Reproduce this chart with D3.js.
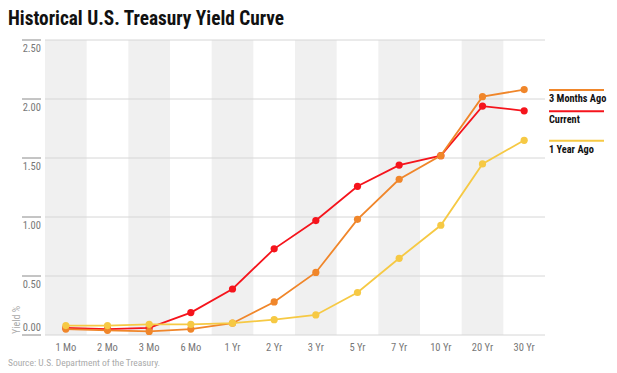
<!DOCTYPE html>
<html>
<head>
<meta charset="utf-8">
<script src="https://cdn.jsdelivr.net/npm/d3@7"></script>
<style>
  body { margin: 0; background: #fff; }
  svg { display: block; font-family: 'Liberation Sans Narrow', 'Roboto Condensed', 'DejaVu Sans Condensed', sans-serif; }
</style>
</head>
<body>
<svg id="chart" width="617" height="373"></svg>
<script>
const categories = ['1 Mo', '2 Mo', '3 Mo', '6 Mo', '1 Yr', '2 Yr', '3 Yr', '5 Yr', '7 Yr', '10 Yr', '20 Yr', '30 Yr'];
const current = [0.06, 0.05, 0.06, 0.19, 0.39, 0.73, 0.97, 1.26, 1.44, 1.52, 1.94, 1.90];
const threeMonthsAgo = [0.05, 0.04, 0.03, 0.05, 0.10, 0.28, 0.53, 0.98, 1.32, 1.52, 2.02, 2.08];
const oneYearAgo = [0.08, 0.08, 0.09, 0.09, 0.10, 0.13, 0.17, 0.36, 0.65, 0.93, 1.45, 1.65];
const yTicks = [0, 0.5, 1, 1.5, 2, 2.5];

const series = [
  { name: 'Current', values: current, color: '#f5141c' },
  { name: '3 Months Ago', values: threeMonthsAgo, color: '#f0862a' },
  { name: '1 Year Ago', values: oneYearAgo, color: '#f6c944' },
];

const svg = d3.select('#chart');
const plot = { left: 45, right: 545, top: 40, bottom: 335 };

const x = d3.scaleBand().domain(categories).range([plot.left, plot.right]).padding(0);
const y = d3.scaleLinear().domain([0, 2.5]).range([plot.bottom, plot.top]);
const cx = (i) => x(categories[i]) + x.bandwidth() / 2;

// title
svg.append('text')
  .attr('x', 8).attr('y', 25)
  .attr('font-size', 19.3).attr('font-weight', 'bold').attr('fill', '#111')
  .text('Historical U.S. Treasury Yield Curve');

// alternating bands
svg.append('g').selectAll('rect')
  .data(categories.filter((d, i) => i % 2 === 0))
  .join('rect')
  .attr('x', (d) => x(d))
  .attr('y', plot.top)
  .attr('width', x.bandwidth())
  .attr('height', plot.bottom - plot.top)
  .attr('fill', '#f0f0f0');

// gridlines + tick marks
const grid = svg.append('g');
grid.selectAll('line.grid')
  .data(yTicks)
  .join('line')
  .attr('class', 'grid')
  .attr('x1', plot.left).attr('x2', plot.right)
  .attr('y1', (d) => y(d)).attr('y2', (d) => y(d))
  .attr('stroke', '#d6d6d6').attr('stroke-width', 1);
grid.selectAll('line.tick')
  .data(yTicks)
  .join('line')
  .attr('class', 'tick')
  .attr('x1', 22).attr('x2', 41)
  .attr('y1', (d) => y(d)).attr('y2', (d) => y(d))
  .attr('stroke', '#8a8a8a').attr('stroke-width', 1);
grid.selectAll('text')
  .data(yTicks)
  .join('text')
  .attr('x', 41)
  .attr('y', (d) => (d === 0 ? y(d) - 4 : y(d) + 12))
  .attr('text-anchor', 'end')
  .attr('font-size', 10.5).attr('fill', '#777')
  .text((d) => d3.format('.2f')(d));

// x labels
svg.append('g').selectAll('text')
  .data(categories)
  .join('text')
  .attr('x', (d, i) => cx(i))
  .attr('y', 351)
  .attr('text-anchor', 'middle')
  .attr('font-size', 10.5).attr('fill', '#777')
  .text((d) => d);

// y title
svg.append('text')
  .attr('transform', 'translate(20,320) rotate(-90)')
  .attr('text-anchor', 'middle')
  .attr('font-size', 10).attr('fill', '#aaa')
  .text('Yield %');

// lines
const line = d3.line()
  .x((d, i) => cx(i))
  .y((d) => y(d));

series.forEach((s) => {
  const g = svg.append('g');
  g.append('path')
    .attr('d', line(s.values))
    .attr('fill', 'none')
    .attr('stroke', s.color)
    .attr('stroke-width', 1.8);
  g.selectAll('circle')
    .data(s.values)
    .join('circle')
    .attr('cx', (d, i) => cx(i))
    .attr('cy', (d) => y(d))
    .attr('r', 3.6)
    .attr('fill', s.color);
});

// legend at end values
const legend = svg.append('g');
series.forEach((s) => {
  const ly = y(s.values[s.values.length - 1]) + 0.5;
  legend.append('line')
    .attr('x1', 549).attr('x2', 604)
    .attr('y1', ly).attr('y2', ly)
    .attr('stroke', s.color).attr('stroke-width', 2);
  legend.append('text')
    .attr('x', 549).attr('y', ly + 12)
    .attr('font-size', 10.3).attr('font-weight', 'bold').attr('fill', '#111')
    .text(s.name);
});

// source
svg.append('text')
  .attr('x', 8).attr('y', 366)
  .attr('font-size', 9.5).attr('fill', '#aaa')
  .text('Source: U.S. Department of the Treasury.');
</script>
</body>
</html>
